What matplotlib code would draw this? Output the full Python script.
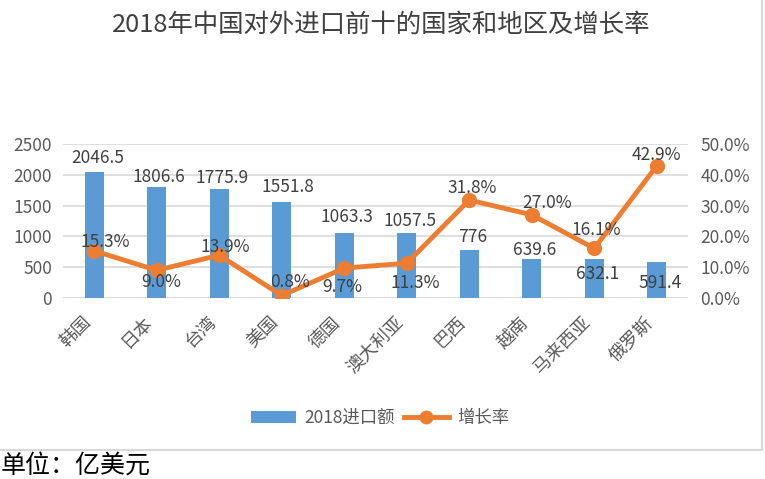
import matplotlib
matplotlib.use("Agg")
import matplotlib.pyplot as plt
from matplotlib.lines import Line2D
from matplotlib.patches import Patch

plt.rcParams['font.family'] = ['Noto Sans CJK SC', 'DejaVu Sans']

# ---- data ----
categories = ["韩国", "日本", "台湾", "美国", "德国", "澳大利亚", "巴西", "越南", "马来西亚", "俄罗斯"]
import_2018 = [2046.5, 1806.6, 1775.9, 1551.8, 1063.3, 1057.5, 776, 639.6, 632.1, 591.4]
import_labels = ["2046.5", "1806.6", "1775.9", "1551.8", "1063.3", "1057.5", "776", "639.6", "632.1", "591.4"]
growth_pct = [15.3, 9.0, 13.9, 0.8, 9.7, 11.3, 31.8, 27.0, 16.1, 42.9]
left_ticks = [0, 500, 1000, 1500, 2000, 2500]
right_ticks = [0, 10, 20, 30, 40, 50]
title = "2018年中国对外进口前十的国家和地区及增长率"
series_names = ["2018进口额", "增长率"]
unit_note = "单位：亿美元"

# label placement offsets (pixels) - layout only
bar_lbl_off = [(4, 14), (2, 10), (3, 11), (6, 15), (3, 16), (3, 12), (3, 13), (3, 9), (3, -15), (3, -21)]
line_lbl_off = [(11, 9), (4, -12), (6, 8), (8, 14), (-2, -19), (9, -20), (3, 12), (15, 12), (2, 18), (0, 11)]

BLUE = "#5B9BD5"
ORANGE = "#ED7D31"
TXT = "#595959"
GRID = "#D9D9D9"

fig = plt.figure(figsize=(7.65, 4.79), dpi=100)
ax = fig.add_axes([63 / 765, 1 - 298 / 479, 625 / 765, 154 / 479])
ax2 = ax.twinx()

x = list(range(len(categories)))
bars = ax.bar(x, import_2018, width=0.3, color=BLUE, zorder=2)
ax.set_xlim(-0.5, len(categories) - 0.5)
ax.set_ylim(0, 2500)
ax.set_yticks(left_ticks)
ax.set_yticklabels([str(t) for t in left_ticks])
ax.yaxis.grid(True, color=GRID, linewidth=1.2, zorder=0)
ax.set_axisbelow(True)
for s in ax.spines.values():
    s.set_visible(False)
for s in ax2.spines.values():
    s.set_visible(False)
ax.axhline(0, color=GRID, linewidth=1.2, zorder=1)
ax.tick_params(axis='y', length=0, colors=TXT, labelsize=12.5, pad=8)
ax.set_xticks(x)
ax.set_xticklabels(categories, rotation=45, ha='right', va='top', fontsize=13, color=TXT,
                   fontweight='light')
ax.tick_params(axis='x', length=0, pad=11)

ax2.plot(x, growth_pct, color=ORANGE, linewidth=3.5, marker='o', markersize=10,
         solid_capstyle='round', zorder=3)
ax2.set_ylim(0, 50)
ax2.set_yticks(right_ticks)
ax2.set_yticklabels([f"{t:.1f}%" for t in right_ticks])
ax2.tick_params(axis='y', length=0, colors=TXT, labelsize=12.5, pad=9)

for i, (v, lab) in enumerate(zip(import_2018, import_labels)):
    dx, dy = bar_lbl_off[i]
    ax.annotate(lab, (i, v), xytext=(dx, dy), textcoords='offset pixels',
                ha='center', va='center', fontsize=12.5, color="#404040", zorder=5)

for i, g in enumerate(growth_pct):
    dx, dy = line_lbl_off[i]
    ax2.annotate(f"{g:.1f}%", (i, g), xytext=(dx, dy), textcoords='offset pixels',
                 ha='center', va='center', fontsize=12.5, color="#404040", zorder=5)

fig.text(381 / 765, 1 - 25 / 479, title, ha='center', va='center', fontsize=18.3, color="#404040",
         fontweight='light')

handles = [Patch(facecolor=BLUE, edgecolor='none'),
           Line2D([0], [0], color=ORANGE, linewidth=3.5, marker='o', markersize=9)]
fig.legend(handles, series_names, loc='center', bbox_to_anchor=(380 / 765, 1 - 418 / 479),
           ncol=2, frameon=False, fontsize=12.5, labelcolor=TXT, handlelength=2.6,
           handletextpad=0.5, columnspacing=0.5, handleheight=0.7)

# chart frame
fig.add_artist(Line2D([0, 762 / 765], [1 - 450 / 479, 1 - 450 / 479], color=GRID, linewidth=1.5,
                      transform=fig.transFigure))
fig.add_artist(Line2D([762 / 765, 762 / 765], [1 - 450 / 479, 1], color=GRID, linewidth=1.5,
                      transform=fig.transFigure))

fig.text(1 / 765, 1 - 466 / 479, unit_note, ha='left', va='center', fontsize=18, color="#000000",
         fontweight='light')

fig.savefig("out.png", dpi=100)
